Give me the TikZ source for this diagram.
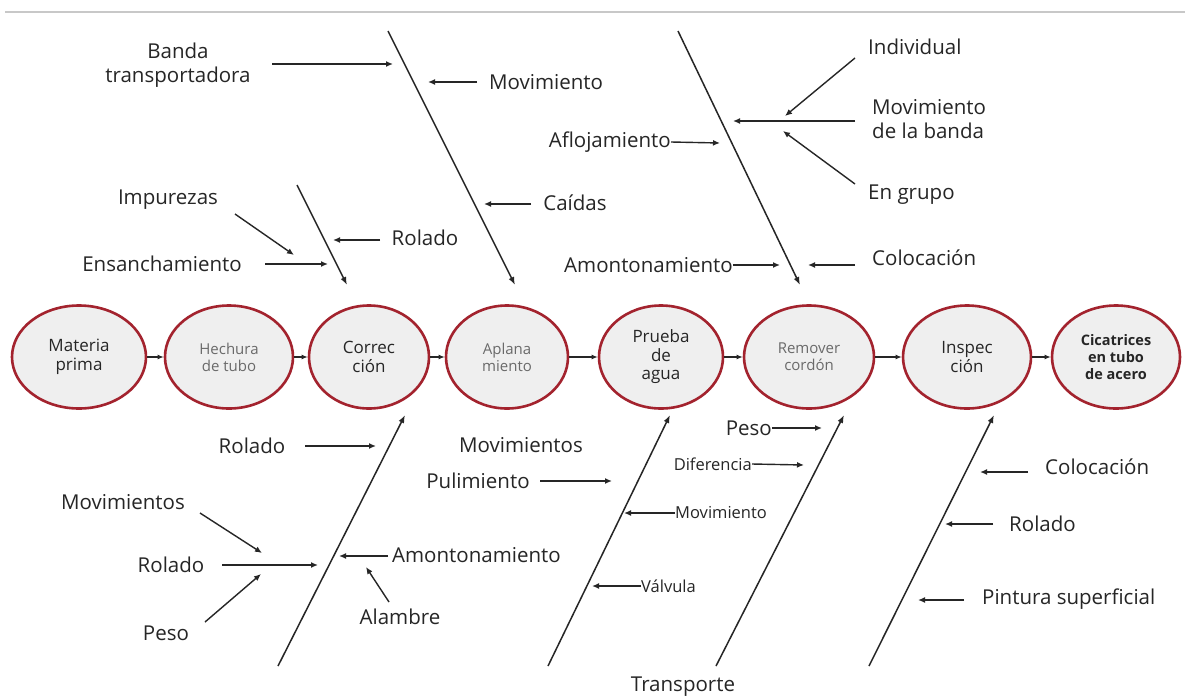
\documentclass[tikz,border=0pt]{standalone}
\usepackage{fontspec}
\setmainfont{Open Sans}
\usetikzlibrary{arrows.meta,shapes.geometric}
\definecolor{ink}{HTML}{262626}
\definecolor{rim}{HTML}{A3232E}
\definecolor{disc}{HTML}{EFEFEF}
\definecolor{softink}{HTML}{6A6A6A}
\definecolor{rule}{HTML}{C8C8C8}
\begin{document}
\begin{tikzpicture}[x=1pt,y=-1pt,
  stage/.style={ellipse, draw=rim, line width=2.6pt, fill=disc, minimum width=126pt,
    minimum height=103pt, inner sep=0pt, align=center, text=ink,
    font=\fontsize{17}{18.5}\selectfont},
  softstage/.style={stage, text=softink, font=\fontsize{15}{17}\selectfont},
  endstage/.style={stage, font=\bfseries\fontsize{14.5}{16.8}\selectfont},
  lbl/.style={inner sep=0pt, text=ink, font=\fontsize{20.5}{24}\selectfont, align=center},
  smalllbl/.style={lbl, font=\fontsize{16.5}{20}\selectfont},
  cause/.style={draw=ink, line width=1.4pt, -{Latex[length=7pt,width=6pt]}},
  bone/.style={draw=ink, line width=1.5pt, -{Latex[length=8pt,width=6pt]}},
  flow/.style={draw=ink, line width=1.5pt, -{Latex[length=6pt,width=5pt]}}
]
\useasboundingbox (0,0) rectangle (1185,696);
\fill[white] (0,0) rectangle (1185,696);

% thin rule along the top edge
\coordinate (r1) at (5,12);
\coordinate (r2) at (1185,12);
\draw[rule, line width=2pt] (r1) -- (r2);

% process stages
\node[stage, minimum width=134pt]     (c1) at (79,357)   {Materia\\prima};
\node[softstage, minimum width=128pt] (c2) at (229,357)  {Hechura\\de tubo};
\node[stage, minimum width=120pt]     (c3) at (369,357)  {Correc\\ción};
\node[softstage, minimum width=122pt] (c4) at (507,357)  {Aplana\\miento};
\node[stage, minimum width=124pt]     (c5) at (661,357)  {Prueba\\de\\agua};
\node[softstage, minimum width=130pt] (c6) at (809,357)  {Remover\\cordón};
\node[stage, minimum width=128pt]     (c7) at (967,357)  {Inspec\\ción};
\node[endstage, minimum width=128pt]  (c8) at (1116,357) {Cicatrices\\en tubo\\de acero};
\foreach \a/\b in {c1/c2,c2/c3,c3/c4,c4/c5,c5/c6,c6/c7,c7/c8}
  \draw[flow] (\a.east) -- (\b.west);

% upper bones
\coordinate (u1s) at (388,31);  \coordinate (u1e) at (515,285);
\coordinate (u2s) at (297,185); \coordinate (u2e) at (347,285);
\coordinate (u3s) at (678,31);  \coordinate (u3e) at (800,285);
\draw[bone] (u1s) -- (u1e);
\draw[bone] (u2s) -- (u2e);
\draw[bone] (u3s) -- (u3e);

% lower bones
\coordinate (d1s) at (278,666); \coordinate (d1e) at (405,415);
\coordinate (d2s) at (548,666); \coordinate (d2e) at (670,415);
\coordinate (d3s) at (716,666); \coordinate (d3e) at (844,415);
\coordinate (d4s) at (869,666); \coordinate (d4e) at (994,415);
\draw[bone] (d1s) -- (d1e);
\draw[bone] (d2s) -- (d2e);
\draw[bone] (d3s) -- (d3e);
\draw[bone] (d4s) -- (d4e);

% upper causes
\node[lbl] (banda) at (178,65) {Banda\\transportadora};
\coordinate (p1a) at (272,64);  \coordinate (p1b) at (393,64);
\draw[cause] (p1a) -- (p1b);

\node[lbl] (movA) at (546,82) {Movimiento};
\coordinate (p2a) at (477,82);  \coordinate (p2b) at (428,82);
\draw[cause] (p2a) -- (p2b);

\node[lbl] (caidas) at (575,203) {Caídas};
\coordinate (p3a) at (531,204); \coordinate (p3b) at (484,204);
\draw[cause] (p3a) -- (p3b);

\node[lbl] (impur) at (168,200) {Impurezas};
\coordinate (p4a) at (235,214); \coordinate (p4b) at (294,255);
\draw[cause] (p4a) -- (p4b);

\node[lbl] (rolA) at (425,238) {Rolado};
\coordinate (p5a) at (380,240); \coordinate (p5b) at (333,240);
\draw[cause] (p5a) -- (p5b);

\node[lbl] (ensan) at (162,264) {Ensanchamiento};
\coordinate (p6a) at (265,264); \coordinate (p6b) at (328,264);
\draw[cause] (p6a) -- (p6b);

\node[lbl, anchor=east] (afloj) at (671,142) {Aflojamiento};
\coordinate (p7b) at (720,143);
\draw[cause] (afloj.east) -- (p7b);

\node[lbl, anchor=west] (indiv) at (868,47) {Individual};
\coordinate (p8a) at (855,58);  \coordinate (p8b) at (785,116);
\draw[cause] (p8a) -- (p8b);

\node[lbl, anchor=west, align=left] (movband) at (872,119) {Movimiento\\de la banda};
\coordinate (p9a) at (855,121); \coordinate (p9b) at (733,121);
\draw[cause] (p9a) -- (p9b);

\node[lbl, anchor=west] (grupo) at (868,195) {En grupo};
\coordinate (p10a) at (855,184); \coordinate (p10b) at (783,131);
\draw[cause] (p10a) -- (p10b);

\node[lbl, anchor=east] (amonA) at (733,265) {Amontonamiento};
\coordinate (p11b) at (780,265);
\draw[cause] (amonA.east) -- (p11b);

\node[lbl, anchor=west] (colA) at (872,258) {Colocación};
\coordinate (p12a) at (855,265); \coordinate (p12b) at (808,265);
\draw[cause] (p12a) -- (p12b);

% lower causes
\node[lbl] (rolB) at (252,446) {Rolado};
\coordinate (q1a) at (305,446); \coordinate (q1b) at (376,446);
\draw[cause] (q1a) -- (q1b);

\node[lbl] (movsA) at (123,502) {Movimientos};
\coordinate (q2a) at (200,513); \coordinate (q2b) at (262,553);
\draw[cause] (q2a) -- (q2b);

\node[lbl] (rolC) at (171,565) {Rolado};
\coordinate (q3a) at (222,565); \coordinate (q3b) at (318,565);
\draw[cause] (q3a) -- (q3b);

\node[lbl] (pesoA) at (166,633) {Peso};
\coordinate (q4a) at (205,622); \coordinate (q4b) at (261,574);
\draw[cause] (q4a) -- (q4b);

\node[lbl, anchor=west] (amonB) at (392,555) {Amontonamiento};
\coordinate (q5a) at (388,556); \coordinate (q5b) at (339,556);
\draw[cause] (q5a) -- (q5b);

\node[lbl] (alamb) at (400,617) {Alambre};
\coordinate (q6a) at (389,602); \coordinate (q6b) at (366,567);
\draw[cause] (q6a) -- (q6b);

\node[lbl] (movsB) at (521,445) {Movimientos};

\node[lbl] (pulim) at (478,481) {Pulimiento};
\coordinate (q7a) at (540,481); \coordinate (q7b) at (612,481);
\draw[cause] (q7a) -- (q7b);

\node[smalllbl, anchor=west] (movB) at (675,513) {Movimiento};
\coordinate (q8b) at (624,513);
\draw[cause] (movB.west) -- (q8b);

\node[smalllbl, anchor=west] (valv) at (641,586) {Válvula};
\coordinate (q9b) at (592,586);
\draw[cause] (valv.west) -- (q9b);

\node[lbl, anchor=east] (pesoB) at (772,428) {Peso};
\coordinate (q10b) at (822,428);
\draw[cause] (pesoB.east) -- (q10b);

\node[smalllbl, anchor=east] (difer) at (752,464) {Diferencia};
\coordinate (q11b) at (804,465);
\draw[cause] (difer.east) -- (q11b);

\node[lbl] (transp) at (683,687) {Transporte};

\node[lbl, anchor=west] (colB) at (1045,467) {Colocación};
\coordinate (q12a) at (1028,472); \coordinate (q12b) at (980,472);
\draw[cause] (q12a) -- (q12b);

\node[lbl, anchor=west] (rolD) at (1009,524) {Rolado};
\coordinate (q13a) at (993,524); \coordinate (q13b) at (945,524);
\draw[cause] (q13a) -- (q13b);

\node[lbl, anchor=west] (pint) at (982,599) {Pintura superficial};
\coordinate (q14a) at (964,600); \coordinate (q14b) at (918,600);
\draw[cause] (q14a) -- (q14b);
\end{tikzpicture}
\end{document}
